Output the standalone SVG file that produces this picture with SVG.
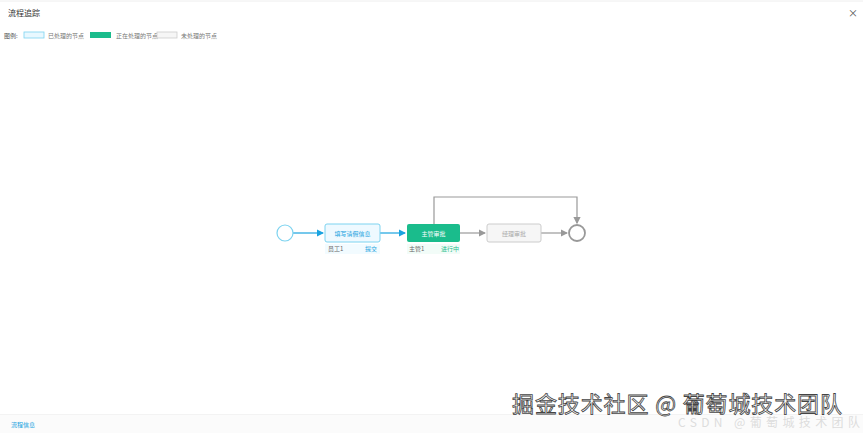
<svg xmlns="http://www.w3.org/2000/svg" width="863" height="433" viewBox="0 0 863 433">
<style>
text{font-family:"Noto Sans CJK SC","Liberation Sans",sans-serif}
.s{font-size:6px}
.c{stroke:#999;stroke-width:1.2;fill:none}
.cb{stroke:#1aa3e0;stroke-width:1.2;fill:none}
</style>
<defs>
<marker id="ag" markerWidth="6" markerHeight="6" refX="5" refY="3" orient="auto"><path d="M0,0L6,3L0,6z" fill="#999"/></marker>
<marker id="ab" markerWidth="6" markerHeight="6" refX="5" refY="3" orient="auto"><path d="M0,0L6,3L0,6z" fill="#1aa3e0"/></marker>
</defs>
<rect width="863" height="433" fill="#fff"/>
<line x1="0" y1="1" x2="863" y2="1" stroke="#eee"/>
<text x="8" y="16" font-size="8" fill="#333">流程追踪</text>
<text x="848" y="17" font-size="10" fill="#555">×</text>
<g id="legend">
<text x="4" y="38" class="s" fill="#555">图例:</text>
<rect x="24" y="32" width="20" height="6" fill="#e8f8ff" stroke="#7dd3f0" stroke-width="0.8"/>
<text x="48" y="38" class="s" fill="#777">已处理的节点</text>
<rect x="90" y="32" width="21" height="6" fill="#1abc8c"/>
<text x="116" y="38" class="s" fill="#777">正在处理的节点</text>
<rect x="157" y="32" width="20" height="6" fill="#f6f6f6" stroke="#ccc" stroke-width="0.8"/>
<text x="181" y="38" class="s" fill="#777">未处理的节点</text>
</g>
<g id="connectors">
<line class="cb" x1="293" y1="233" x2="323" y2="233" marker-end="url(#ab)"/>
<line class="cb" x1="380" y1="233" x2="405" y2="233" marker-end="url(#ab)"/>
<line class="c" x1="460" y1="233" x2="485" y2="233" marker-end="url(#ag)"/>
<line class="c" x1="541" y1="233" x2="567" y2="233" marker-end="url(#ag)"/>
<polyline class="c" points="434,224 434,197 577,197 577,223" marker-end="url(#ag)"/>
</g>
<g id="start"><circle cx="285" cy="233" r="8" fill="#fff" stroke="#7dd3f0" stroke-width="1.2"/></g>
<g id="n1">
<rect x="325" y="224" width="55" height="18" rx="2" fill="#eef9ff" stroke="#7dd3f0"/>
<text x="352.5" y="235.5" class="s" text-anchor="middle" fill="#1aa3e0">填写请假信息</text>
<rect x="325" y="244" width="55" height="10" fill="#f2fbff"/>
<text x="328" y="251" class="s" fill="#666">员工1</text>
<text x="377" y="251" class="s" text-anchor="end" fill="#1aa3e0">提交</text>
</g>
<g id="n2">
<rect x="407" y="224" width="53" height="18" rx="2" fill="#1abc8c"/>
<text x="433.5" y="235.5" class="s" text-anchor="middle" fill="#fff">主管审批</text>
<rect x="407" y="244" width="53" height="10" fill="#f2fcf8"/>
<text x="409" y="251" class="s" fill="#666">主管1</text>
<text x="459" y="251" class="s" text-anchor="end" fill="#1abc8c">进行中</text>
</g>
<g id="n3">
<rect x="487" y="224" width="54" height="18" rx="2" fill="#f6f6f6" stroke="#ccc"/>
<text x="514" y="235.5" class="s" text-anchor="middle" fill="#aaa">经理审批</text>
</g>
<g id="end"><circle cx="577" cy="233" r="8" fill="#fff" stroke="#999" stroke-width="1.8"/></g>
<line x1="0" y1="415" x2="863" y2="415" stroke="#e6e6e6"/>
<rect x="0" y="415" width="863" height="18" fill="#fbfbfb"/>
<text x="11" y="427" class="s" fill="#1aa3e0">流程信息</text>
<text x="512" y="412" font-size="22" textLength="330" fill="#fff" stroke="#444" stroke-width="0.8">掘金技术社区 @ 葡萄城技术团队</text>
<text x="678" y="427" font-size="12" textLength="182" fill="#ddd">CSDN @葡萄城技术团队</text>
</svg>
